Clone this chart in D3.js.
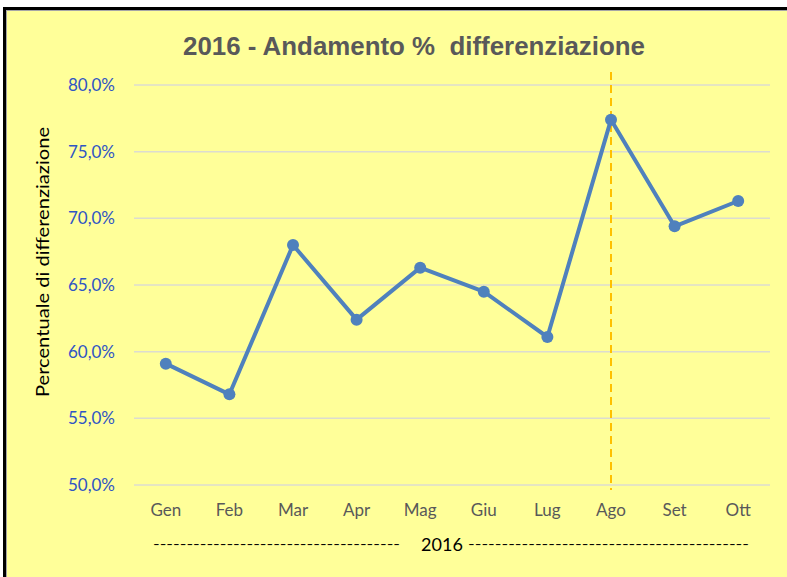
<!DOCTYPE html>
<html>
<head>
<meta charset="utf-8">
<script src="https://cdn.jsdelivr.net/npm/d3@7"></script>
<style>
  html, body { margin: 0; padding: 0; background: #fff; }
  svg { display: block; }
</style>
</head>
<body>
<div id="chart"></div>
<script>
// Chart data
const months = ["Gen", "Feb", "Mar", "Apr", "Mag", "Giu", "Lug", "Ago", "Set", "Ott"];
const percentuale = [59.1, 56.8, 68.0, 62.4, 66.3, 64.5, 61.1, 77.4, 69.4, 71.3];
const yTicks = [50, 55, 60, 65, 70, 75, 80];
const markerMonth = "Ago";
const titleText = "2016 - Andamento %  differenziazione";
const yTitle = "Percentuale di differenziazione";
const xTitle = "2016";

const width = 787, height = 577;
const margin = { top: 85, right: 17, bottom: 92, left: 134 };
const font = "Lato, 'Open Sans', 'Liberation Sans', sans-serif";

const svg = d3.select("#chart").append("svg")
  .attr("width", width)
  .attr("height", height);

// Frame: black top/left border, thin grey line, yellow fill
svg.append("rect")
  .attr("x", 3).attr("y", 7)
  .attr("width", width).attr("height", height)
  .attr("fill", "#a6a6a6");
svg.append("rect")
  .attr("x", 3).attr("y", 7)
  .attr("width", width).attr("height", 3)
  .attr("fill", "#000");
svg.append("rect")
  .attr("x", 3).attr("y", 7)
  .attr("width", 3).attr("height", height)
  .attr("fill", "#000");
svg.append("rect")
  .attr("x", 7).attr("y", 11)
  .attr("width", width).attr("height", height)
  .attr("fill", "#ffff99");

const x = d3.scaleBand()
  .domain(months)
  .range([margin.left, width - margin.right]);

const y = d3.scaleLinear()
  .domain([50, 80])
  .range([height - margin.bottom, margin.top]);

// Gridlines
svg.append("g")
  .selectAll("line")
  .data(yTicks)
  .join("line")
  .attr("x1", margin.left)
  .attr("x2", width - margin.right)
  .attr("y1", d => y(d))
  .attr("y2", d => y(d))
  .attr("stroke", "#dcdcd0")
  .attr("stroke-width", 1.5);

// Y axis labels
const fmt = d => d.toFixed(1).replace(".", ",") + "%";
const yAxis = svg.append("g")
  .attr("transform", `translate(${margin.left - 19},0)`)
  .call(d3.axisLeft(y).tickValues(yTicks).tickFormat(fmt).tickSize(0).tickPadding(0));
yAxis.select(".domain").remove();
yAxis.selectAll("text")
  .attr("fill", "#2f55c4")
  .attr("font-family", font)
  .attr("font-size", 17);

// X axis labels
const xAxis = svg.append("g")
  .attr("transform", `translate(0,${height - margin.bottom + 19})`)
  .call(d3.axisBottom(x).tickSize(0).tickPadding(0));
xAxis.select(".domain").remove();
xAxis.selectAll("text")
  .attr("fill", "#595959")
  .attr("font-family", font)
  .attr("font-size", 17);

// Vertical dashed marker on Ago
const mx = x(markerMonth) + x.bandwidth() / 2;
svg.append("line")
  .attr("x1", mx).attr("x2", mx)
  .attr("y1", 72).attr("y2", height - margin.bottom + 5)
  .attr("stroke", "#ffc000")
  .attr("stroke-width", 2)
  .attr("stroke-dasharray", "8,5");

// Line
const line = d3.line()
  .x((d, i) => x(months[i]) + x.bandwidth() / 2)
  .y(d => y(d));

svg.append("path")
  .datum(percentuale)
  .attr("d", line)
  .attr("fill", "none")
  .attr("stroke", "#4f81bd")
  .attr("stroke-width", 4)
  .attr("stroke-linejoin", "round");

svg.append("g")
  .selectAll("circle")
  .data(percentuale)
  .join("circle")
  .attr("cx", (d, i) => x(months[i]) + x.bandwidth() / 2)
  .attr("cy", d => y(d))
  .attr("r", 6)
  .attr("fill", "#4f81bd");

// Title
svg.append("text")
  .attr("x", 414)
  .attr("y", 55)
  .attr("text-anchor", "middle")
  .attr("fill", "#595959")
  .attr("font-family", "'Liberation Sans Narrow', 'Arial Narrow', 'Liberation Sans', sans-serif")
  .attr("font-weight", "bold")
  .attr("font-size", 25)
  .attr("textLength", 462)
  .attr("lengthAdjust", "spacingAndGlyphs")
  .attr("xml:space", "preserve")
  .text(titleText);

// Y title
svg.append("text")
  .attr("transform", "translate(49,262) rotate(-90)")
  .attr("text-anchor", "middle")
  .attr("fill", "#000")
  .attr("font-family", font)
  .attr("font-size", 18)
  .attr("textLength", 270)
  .attr("lengthAdjust", "spacingAndGlyphs")
  .text(yTitle);

// X title with dashed rules either side
const xt = svg.append("g")
  .attr("font-family", font)
  .attr("font-size", 18)
  .attr("fill", "#000");
xt.append("text")
  .attr("x", 442).attr("y", 551)
  .attr("text-anchor", "middle")
  .text(xTitle);
xt.append("text")
  .attr("x", 153).attr("y", 549)
  .attr("textLength", 247)
  .attr("lengthAdjust", "spacingAndGlyphs")
  .attr("font-size", 13)
  .text("-".repeat(37));
xt.append("text")
  .attr("x", 468).attr("y", 549)
  .attr("textLength", 281)
  .attr("lengthAdjust", "spacingAndGlyphs")
  .attr("font-size", 13)
  .text("-".repeat(42));
</script>
</body>
</html>
